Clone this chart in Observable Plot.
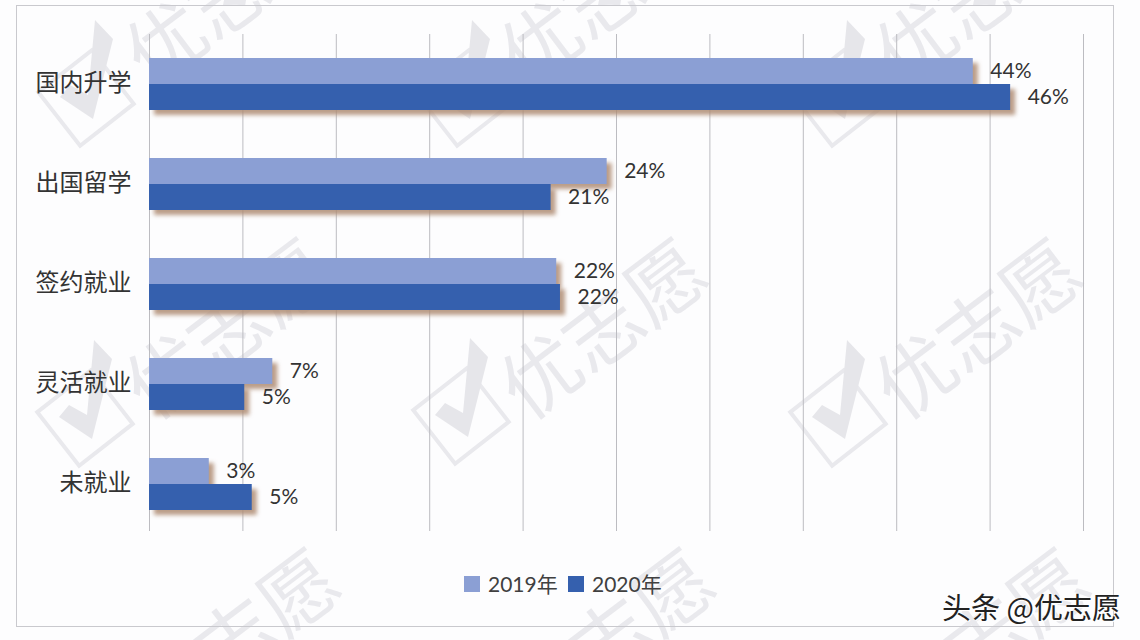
<!DOCTYPE html>
<html><head><meta charset="utf-8">
<script src="https://cdn.jsdelivr.net/npm/d3@7"></script>
<script src="https://cdn.jsdelivr.net/npm/@observablehq/plot@0.6"></script>
<style>
html,body{margin:0;padding:0;background:#fdfdfe;width:1140px;height:640px;overflow:hidden;font-family:Lato,"Noto Sans CJK SC",sans-serif;color:#333}
#wrap{position:relative;width:1140px;height:640px;overflow:hidden}
#frame{position:absolute;left:16px;top:5px;width:1096px;height:620px;border:1px solid #c9c9ce}
.wm{position:absolute;color:#e9e9ed;font-family:"Noto Sans CJK SC";font-size:78px;font-weight:400;white-space:nowrap;transform:translate(-50%,-50%) rotate(-37deg);line-height:1}
.box{position:absolute;box-sizing:border-box;width:72px;height:72px;border:4px solid #e9e9ed;transform:translate(-50%,-50%) rotate(-38deg)}
.ck{position:absolute;width:100px;height:110px;margin-left:-40px;margin-top:-85px;background:#e6e6ea;clip-path:polygon(14px 84px,24px 72px,42px 82px,49px 7px,67px 26px,47px 106px)}
#chart{position:absolute;left:0;top:0}
#chart svg{background:transparent;display:block}
g[aria-label="bar"] rect{filter:drop-shadow(5px 5px 2px rgba(175,140,115,.85))}
#legend{position:absolute;left:464px;top:570px;display:flex;align-items:center;font-size:21px;line-height:28px;color:#404040}
#legend i{display:inline-block;width:16px;height:16px;margin-right:8px}
#legend span{display:inline-block;width:80px}
#credit{position:absolute;left:942px;top:588px;font-family:"Noto Sans CJK SC";font-size:29px;line-height:36px;color:#222;text-shadow:0 0 2px #fff,1px 1px 0 #fff;white-space:nowrap}
</style></head><body>
<div id="wrap"><div id="marks"></div><div id="frame"></div><div id="chart"></div><div id="legend"></div><div id="credit">头条 @优志愿</div></div>
<script>
const categories = ["国内升学","出国留学","签约就业","灵活就业","未就业"];
const years = ["2019年","2020年"];
const values2019 = [44.1,24.5,21.8,6.6,3.2];
const values2020 = [46.1,21.5,22.0,5.1,5.5];
const labels2019 = ["44%","24%","22%","7%","3%"];
const labels2020 = ["46%","21%","22%","5%","5%"];
const xTicks = [0,5,10,15,20,25,30,35,40,45,50];
const colors = ["#8b9fd4","#3560ae"];

const rows = categories.flatMap((c,i)=>[
  {category:c,year:years[0],value:values2019[i],label:labels2019[i]},
  {category:c,year:years[1],value:values2020[i],label:labels2020[i]}
]);
const gridRows = categories.flatMap(c=>xTicks.map(t=>({category:c,tick:t})));
const lastCategory = categories[categories.length-1];

const chart = Plot.plot({
  width:1140,height:540,
  marginTop:34,marginBottom:6,marginLeft:149,marginRight:57,
  style:{background:"transparent",fontFamily:'Lato,"Noto Sans CJK SC",sans-serif',overflow:"visible"},
  x:{domain:[0,50],axis:null},
  fy:{domain:categories,padding:0,axis:null},
  y:{domain:years,paddingInner:0,paddingOuter:0.923,axis:null},
  color:{domain:years,range:colors},
  marks:[
    Plot.ruleX(gridRows.filter(d=>d.category!==lastCategory),{x:"tick",fy:"category",stroke:"#bcbcc1",strokeWidth:1}),
    Plot.ruleX(gridRows.filter(d=>d.category===lastCategory),{x:"tick",fy:"category",stroke:"#bcbcc1",strokeWidth:1,insetBottom:3}),
    Plot.barX(rows,{fy:"category",y:"year",x:"value",fill:"year"}),
    Plot.text(rows,{fy:"category",y:"year",x:"value",text:"label",textAnchor:"start",dx:17,fontSize:21,fill:"#333"}),
    Plot.axisFy({anchor:"left",tickSize:0,tickPadding:18,fontSize:24,label:null,color:"#333",fontFamily:'"Noto Sans CJK SC"',dy:-1})
  ]
});
document.getElementById("chart").append(chart);

const legend = document.getElementById("legend");
years.forEach((y,i)=>{
  const sw=document.createElement("i"); sw.style.background=colors[i]; legend.append(sw);
  const t=document.createElement("span"); t.textContent=y; legend.append(t);
});

// background watermark
const marks = document.getElementById("marks");
const add=(cls,l,t,txt)=>{const d=document.createElement("div"); d.className=cls; if(txt)d.textContent=txt; d.style.left=l+"px"; d.style.top=t+"px"; marks.append(d);};
[[225,-8],[600,-8],[975,-8],[225,325],[600,325],[975,325],[233,635],[608,635],[983,635]].forEach(([l,t])=>add("wm",l,t,"优志愿"));
[[86,98],[463,98],[838,98],[85,418],[461,416],[838,418]].forEach(([l,t])=>{add("box",l,t);add("ck",l,t);});
</script>
</body></html>
